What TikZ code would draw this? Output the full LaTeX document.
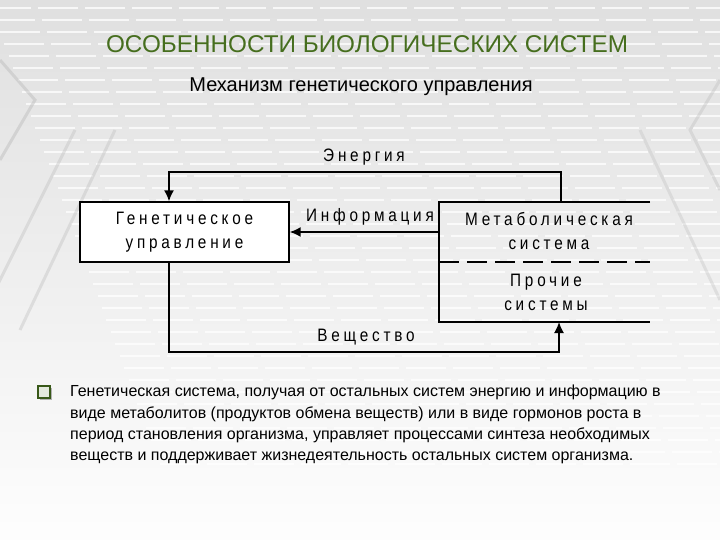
\documentclass[tikz,border=0pt]{standalone}
\usepackage{fontspec}
\setmainfont{Liberation Sans}
\newfontfamily\bodyfont{Liberation Sans}
\newfontfamily\spacedfont[LetterSpace=21,FakeStretch=0.85]{Liberation Sans}
\usetikzlibrary{arrows.meta}
\definecolor{titlegreen}{RGB}{70,110,30}
\definecolor{bggray}{RGB}{218,218,218}
\begin{document}
\begin{tikzpicture}[x=1pt,y=-1pt,
  conn/.style={line width=1.6pt,-{Latex[length=11pt,width=10pt]}},
  spaced/.style={font=\spacedfont\fontsize{18}{24}\selectfont, inner sep=0pt, align=center},
  gbox/.style={draw, line width=1.4pt, fill=white, minimum width=209pt, minimum height=60pt, inner sep=0pt}
]
\useasboundingbox (0,0) rectangle (720,540);
% background
\shade[top color=bggray!85!white, bottom color=white!96!bggray] (0,0) rectangle (720,540);
\foreach \yy in {8,20,...,470} {
  \draw[white, line width=2.4pt, opacity=0.75, dash pattern=on 40pt off 7pt] (-12+\yy*0.37,\yy) -- (720,\yy);
}
\draw[bggray!70!gray, line width=3pt, opacity=0.5] (0,60) -- (35,100) -- (0,160);
\draw[bggray!70!gray, line width=3pt, opacity=0.4] (75,130) -- (-10,300);
\draw[bggray!70!gray, line width=3pt, opacity=0.4] (115,130) -- (20,330);
\draw[bggray!70!gray, line width=3pt, opacity=0.4] (720,80) -- (690,130) -- (720,190);
\draw[bggray!70!gray, line width=3pt, opacity=0.35] (640,130) -- (720,300);

% titles
\node[text=titlegreen, font=\bodyfont\fontsize{24.3}{28}\selectfont] (title) at (367,44) {ОСОБЕННОСТИ БИОЛОГИЧЕСКИХ СИСТЕМ};
\node[font=\bodyfont\fontsize{20}{24}\selectfont] (sub) at (361,87) {Механизм генетического управления};

% genetic control box
\node[gbox, spaced] (gen) at (184.5,232) {Генетическое\\управление};

% right box
\coordinate (rtl) at (439,202);
\coordinate (rtr) at (650,202);
\coordinate (rbl) at (439,322);
\coordinate (rbr) at (650,322);
\coordinate (rml) at (439,262);
\coordinate (rmr) at (650,262);
\draw[line width=1.4pt] (rtr) -- (rtl) -- (rbl) -- (rbr);
\draw[line width=1.4pt, dash pattern=on 20pt off 8pt] (rml) -- (rmr);
\node[spaced] (met) at (549,231) {Метаболическая\\система};
\node[spaced] (pro) at (546,292) {Прочие\\системы};

% connectors
\coordinate (eright) at (561,172);
\coordinate (eleft) at (169,172);
\coordinate (vleft) at (169,352);
\coordinate (vright) at (559,352);
\draw[conn] (eright |- rtl) -- (eright) -- (eleft) -- (eleft |- gen.north);
\draw[conn] (rtl |- gen.east) -- (gen.east);
\draw[conn] (vleft |- gen.south) -- (vleft) -- (vright) -- (vright |- rbl);

\node[spaced] (en) at (364,157) {Энергия};
\node[spaced] (inf) at (370,217) {Информация};
\node[spaced] (sub2) at (366,337) {Вещество};

% bullet
\fill[gray!60] (40,388) rectangle (52,400);
\draw[titlegreen!80!black, line width=1.3pt, fill=white!85!titlegreen] (38,386) rectangle (50,398);
\node[anchor=north west, inner sep=0pt, align=left, font=\bodyfont\fontsize{16}{21.3}\selectfont] (body) at (70,385)
 {Генетическая система, получая от остальных систем энергию и информацию в\\
  виде метаболитов (продуктов обмена веществ) или в виде гормонов роста в\\
  период становления организма, управляет процессами синтеза необходимых\\
  веществ и поддерживает жизнедеятельность остальных систем организма.};
\end{tikzpicture}
\end{document}
